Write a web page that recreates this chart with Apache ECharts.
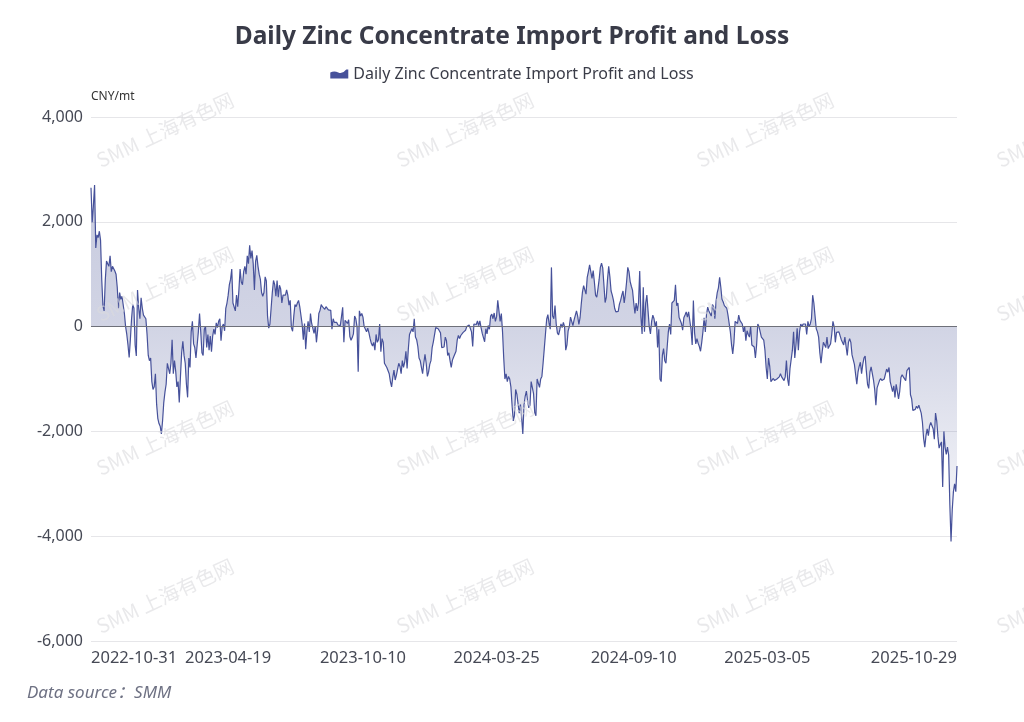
<!DOCTYPE html>
<html>
<head>
<meta charset="utf-8">
<script src="https://cdn.jsdelivr.net/npm/echarts@6/dist/echarts.min.js"></script>
<style>
html,body{margin:0;padding:0;background:#ffffff;}
#chart{width:1024px;height:722px;}
</style>
</head>
<body>
<div id="chart"></div>
<script>
const chartTitle = 'Daily Zinc Concentrate Import Profit and Loss';
const seriesName = 'Daily Zinc Concentrate Import Profit and Loss';
const unitName = 'CNY/mt';
const sourceText = 'Data source：SMM';
const watermarkText = 'SMM 上海有色网';

const firstDate = '2022-10-31';
const lastDate = '2025-10-29';

// SHFE weekday closures in the covered span
const holidays = [
  '2023-01-02','2023-01-23','2023-01-24','2023-01-25','2023-01-26','2023-01-27',
  '2023-04-05','2023-05-01','2023-05-02','2023-05-03','2023-06-22','2023-06-23',
  '2023-09-29','2023-10-02','2023-10-03','2023-10-04','2023-10-05','2023-10-06',
  '2024-01-01','2024-02-09','2024-02-12','2024-02-13','2024-02-14','2024-02-15','2024-02-16',
  '2024-04-04','2024-04-05','2024-05-01','2024-05-02','2024-05-03','2024-06-10',
  '2024-09-16','2024-09-17','2024-10-01','2024-10-02','2024-10-03','2024-10-04','2024-10-07',
  '2025-01-01','2025-01-28','2025-01-29','2025-01-30','2025-01-31','2025-02-03','2025-02-04',
  '2025-04-04','2025-05-01','2025-05-02','2025-05-05','2025-06-02',
  '2025-10-01','2025-10-02','2025-10-03','2025-10-06','2025-10-07','2025-10-08'
];

const tickLabels = ['2022-10-31','2023-04-19','2023-10-10','2024-03-25','2024-09-10','2025-03-05','2025-10-29'];

const yMin = -6000;
const yMax = 4000;
const yStep = 2000;

const profitLoss = [
  2650,1990,2300,2700,1500,1750,1700,1820,1650,900,
  400,300,900,1250,1200,1150,1350,1050,1150,1150,
  1060,1000,750,350,650,520,580,560,250,0,
  -150,-350,-590,-250,150,420,350,-350,-560,700,
  350,150,550,350,220,250,150,-150,-550,-650,
  -600,-1050,-1200,-1150,-900,-1480,-1750,-1850,-1900,-2050,
  -1800,-1450,-1250,-1100,-700,-800,-900,-700,-250,-900,
  -650,-850,-1150,-1050,-1450,-950,-500,-280,-550,
  -700,-1100,-1350,-600,-780,-100,100,-330,-400,-600,
  -580,-100,250,-100,-500,-550,-50,0,-400,-150,
  -450,-180,-480,-180,-50,-150,70,-20,100,150,
  -270,0,50,-80,350,450,600,800,900,1100,
  450,420,300,600,380,700,1100,850,800,1050,
  1150,1000,1350,1200,1550,1300,1450,1200,700,1250,
  1360,1150,1000,900,650,580,650,950,870,200,
  -30,50,350,650,880,800,580,880,560,790,
  720,450,600,620,600,700,600,410,500,-20,
  -90,200,420,380,450,500,380,350,50,-250,
  60,-430,-100,100,-100,250,60,30,-130,0,
  -300,-70,250,310,420,380,380,330,380,410,
  320,300,310,-50,150,80,100,80,30,50,
  20,190,370,-300,120,90,60,130,-190,
  -260,-210,-140,200,150,0,-860,300,200,250,
  180,0,0,-100,-30,-120,-230,-320,-370,-300,
  -450,-150,-300,-250,50,-480,-230,-300,-700,-720,
  -780,-800,-900,-1050,-1150,-970,-830,-1020,-930,-950,
  -700,-760,-900,-650,-780,-680,-470,-800,-440,-150,
  -150,-40,-100,150,-200,-250,-380,-600,-650,-780,
  -900,-700,-530,-700,-950,-870,-720,-650,-400,-290,
  -300,-20,0,-40,-80,-120,-400,-380,-390,-200,
  -270,-550,-500,-650,-780,-640,-580,-600,-470,-260,
  -170,-230,-170,-180,-110,-130,-70,0,30,30,
  0,-100,-380,50,70,40,110,20,110,-20,
  -130,-140,-290,-40,-140,20,-50,200,240,150,
  260,100,190,500,300,100,250,-100,-600,-1000,
  -900,-1050,-950,-1000,-1150,-1500,-1800,-1700,-1200,-1290,
  -1270,-1650,-1480,-1730,-2050,-1500,-1330,-1230,-1420,
  -1550,-1500,-1050,-1030,-1280,-1640,-1700,-1000,-1000,-1160,
  -1000,-950,-700,-420,-140,140,230,70,-50,1130,
  200,150,400,50,-120,-160,-60,50,-20,80,
  0,-450,-350,-80,0,180,100,20,130,110,
  300,200,40,170,430,660,780,700,620,940,
  1050,1180,1150,920,1070,850,600,560,720,900,
  1130,1210,1120,800,460,560,900,1150,950,680,
  600,500,350,280,270,290,430,500,600,680,
  450,620,850,1130,1050,860,770,690,450,250,
  450,300,450,1060,200,-140,750,-100,450,600,
  620,0,-140,100,220,150,0,100,-400,-50,
  -1000,-1050,-550,-420,-650,-700,-400,-100,50,-150,
  450,450,500,800,400,450,180,150,60,-70,
  170,220,280,180,280,300,-50,-350,500,-120,
  -330,-230,-320,-380,-470,-300,-100,170,-100,
  230,370,300,300,200,420,380,150,480,650,
  740,940,750,520,470,400,370,350,220,230,
  -100,-350,-520,-300,100,90,60,220,120,140,
  50,-100,0,-270,-80,-150,-200,0,-350,-330,
  -390,-600,-350,50,0,-100,-200,-230,-260,-450,
  -780,-1000,-600,-760,-1050,-1030,-990,-1030,-1060,-1000,
  -1020,-960,-900,-960,-960,-1030,-960,-650,-1000,-1130,
  -800,-800,-450,-100,-600,-350,-30,-450,-100,50,
  0,50,20,50,-150,100,0,50,150,600,
  450,200,-40,-100,-200,-500,-700,-480,-300,-300,
  -400,-200,-420,-370,-330,-150,100,0,-300,-110,
  -120,-100,-120,-250,-240,-350,-200,-380,-550,-300,
  -230,-300,-540,-570,-720,-700,-1100,-870,-760,-680,
  -900,-720,-600,-560,-850,-1100,-1180,-870,-770,
  -760,-1020,-1200,-1500,-1170,-1180,-1030,-990,-1030,-1000,
  -1000,-980,-810,-870,-780,-1050,-1080,-1240,-1130,-1350,
  -1100,-1100,-1380,-1230,-970,-920,-960,-980,-1030,-840,
  -840,-780,-1300,-1380,-1600,-1620,-1580,-1520,-1560,-1500,
  -1520,-1650,-1820,-2130,-2300,-2080,-1950,-2080,-1900,-1830,
  -1800,-1950,-2150,-1650,-1800,-2100,-2320,-2250,-2200,-3060,
  -2000,-2300,-2440,-2300,-2450,-3400,-4100,-3500,-3150,-3000,
  -3150,-2660
];

// Build trading-day categories
const holidaySet = new Set(holidays);
const dates = [];
(function () {
  const p0 = firstDate.split('-').map(Number);
  const p1 = lastDate.split('-').map(Number);
  const t0 = Date.UTC(p0[0], p0[1] - 1, p0[2]);
  const t1 = Date.UTC(p1[0], p1[1] - 1, p1[2]);
  for (let t = t0; t <= t1; t += 86400000) {
    const d = new Date(t);
    const wd = d.getUTCDay();
    const s = d.toISOString().slice(0, 10);
    if (wd === 0 || wd === 6 || holidaySet.has(s)) continue;
    dates.push(s);
  }
})();

const lineColor = '#46519a';
const labelColor = '#464955';
const fontFamily = '"Noto Sans", "Noto Sans CJK SC", sans-serif';

// Watermark layer
const wmCols = [165, 465, 765, 1065];
const wmRows = [130, 284, 438, 596];
const watermarks = [];
wmRows.forEach(function (y) {
  wmCols.forEach(function (x) {
    watermarks.push({
      type: 'text',
      x: x,
      y: y,
      rotation: 25 * Math.PI / 180,
      silent: true,
      z: 100,
      style: {
        text: watermarkText,
        fill: 'rgba(218,218,222,0.6)',
        font: '20px "Noto Sans CJK SC", "Noto Sans", sans-serif',
        align: 'center',
        verticalAlign: 'middle',
        textAlign: 'center',
        textVerticalAlign: 'middle'
      }
    });
  });
});

const chart = echarts.init(document.getElementById('chart'), null, { renderer: 'canvas' });
chart.setOption({
  animation: false,
  backgroundColor: '#ffffff',
  textStyle: { fontFamily: fontFamily },
  title: [
    {
      text: chartTitle,
      left: 'center',
      top: 20,
      textStyle: { fontSize: 24.5, fontWeight: 'bold', color: '#393b48', fontFamily: fontFamily }
    },
    {
      text: sourceText,
      left: 22,
      top: 680,
      textStyle: { fontSize: 17, fontWeight: 'normal', fontStyle: 'italic', color: '#6e7183', fontFamily: fontFamily }
    }
  ],
  legend: {
    top: 61,
    left: 'center',
    itemWidth: 18,
    itemHeight: 9,
    icon: 'path://M0,9 L0,3 Q4,1 8,3 Q12,5 16,0 L18,0 L18,9 Z',
    textStyle: { fontSize: 16, color: '#3a3c48', fontFamily: fontFamily },
    data: [seriesName]
  },
  grid: { left: 91, right: 67, top: 117, bottom: 81, containLabel: false },
  xAxis: {
    type: 'category',
    data: dates,
    boundaryGap: false,
    axisLine: { show: false },
    axisTick: { show: false },
    splitLine: { show: false },
    axisLabel: {
      interval: function (idx, val) { return tickLabels.indexOf(val) >= 0; },
      fontSize: 16.5,
      color: labelColor,
      margin: 9,
      alignMinLabel: 'left',
      alignMaxLabel: 'right',
      hideOverlap: false
    }
  },
  yAxis: {
    type: 'value',
    min: yMin,
    max: yMax,
    interval: yStep,
    name: unitName,
    nameGap: 14,
    nameTextStyle: { align: 'left', fontSize: 12, color: '#333333', fontFamily: fontFamily },
    axisLine: { show: false },
    axisTick: { show: false },
    axisLabel: {
      fontSize: 16,
      color: labelColor,
      margin: 8,
      formatter: function (v) { return v.toLocaleString('en-US'); }
    },
    splitLine: { lineStyle: { color: '#e6e6e9', width: 1 } }
  },
  series: [{
    name: seriesName,
    type: 'line',
    data: profitLoss,
    symbol: 'none',
    showSymbol: false,
    sampling: null,
    lineStyle: { width: 1.2, color: lineColor },
    itemStyle: { color: lineColor },
    areaStyle: {
      color: new echarts.graphic.LinearGradient(0, 0, 0, 1, [
        { offset: 0, color: 'rgba(74,85,150,0.44)' },
        { offset: 0.4, color: 'rgba(74,85,150,0.36)' },
        { offset: 1, color: 'rgba(74,85,150,0.05)' }
      ])
    },
    markLine: {
      silent: true,
      symbol: ['none', 'none'],
      label: { show: false },
      lineStyle: { color: '#6e7079', width: 1, type: 'solid' },
      data: [{ yAxis: 0 }]
    }
  }],
  graphic: watermarks
});

if (profitLoss.length !== dates.length) {
  throw new Error('length mismatch: values ' + profitLoss.length + ' dates ' + dates.length);
}
</script>
</body>
</html>
